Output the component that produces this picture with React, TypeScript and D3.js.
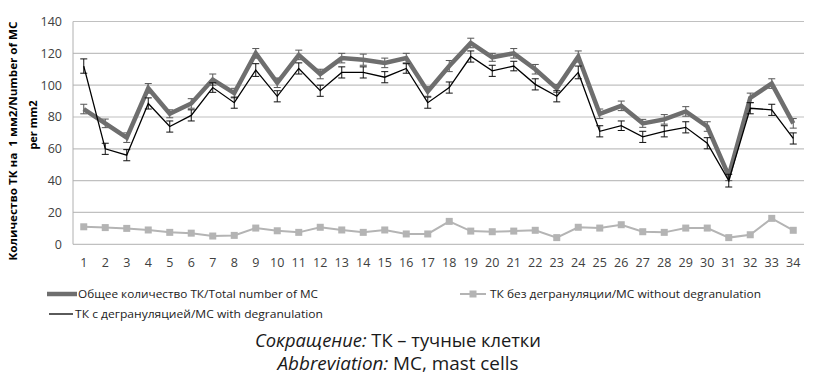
import React from "react";
import * as d3 from "d3";

const categories: number[] = Array.from({ length: 34 }, (_, i) => i + 1);

const totalValues = [85, 76, 67, 98, 82, 88.5, 103.5, 95, 120, 101.5, 119, 107, 117, 116, 114, 117, 96, 112, 126.5, 117.5, 120, 110, 98, 118, 82, 87, 76, 78.5, 83.5, 74, 43, 92, 101, 76];
const totalErr = [3, 2.7, 3, 3, 2.5, 3, 3.5, 3, 3, 3, 3, 3, 3, 3.5, 3, 3, 3, 3.5, 3, 2.5, 3, 3, 2.5, 3.5, 3, 3, 2.5, 3, 3, 3, 3, 3, 3, 3];

const degranValues = [112, 60, 56, 88.5, 74, 81, 98.5, 89, 109.5, 93, 110.5, 96.5, 108, 108, 105, 110.5, 89, 98.5, 118, 109, 112, 100.5, 93, 108, 71, 74.5, 67.5, 71, 73.5, 63.5, 40, 85.5, 84.5, 66.5];
const degranErr = [4.5, 3.5, 3.5, 3.5, 3.5, 3.5, 3, 3.5, 4, 3.5, 3.5, 3.5, 3.5, 3.5, 3.5, 3, 3.5, 3.5, 3.5, 3.5, 3, 3.5, 3.5, 4, 3.5, 3, 3.5, 3.5, 3.5, 3.5, 4, 3.5, 3.5, 3.5];

const nonDegranValues = [11, 10.5, 10, 9, 7.5, 7, 5.2, 5.6, 10.2, 8.5, 7.5, 10.7, 9, 7.5, 9, 6.5, 6.5, 14.4, 8.3, 7.9, 8.3, 8.8, 4.2, 10.7, 10.2, 12.3, 7.9, 7.5, 10.2, 10.2, 4.2, 6, 16.3, 8.8];

const yTicks = [0, 20, 40, 60, 80, 100, 120, 140];

const legendLabels = [
  "Общее количество ТК/Total number of MC",
  "ТК без дегрануляции/MC without degranulation",
  "ТК с дегрануляцией/MC with degranulation",
];
const yTitleLines = ["Количество ТК на  1 мм2/Number of MC", "per mm2"];

const W = 819;
const H = 381;
const left = 73;
const right = 804;
const top = 21.5;
const bottom = 244.3;

const FONT = "'Open Sans', 'DejaVu Sans', sans-serif";

export default function App() {
  const x = d3.scalePoint<number>().domain(categories).range([left, right]).padding(0.5);
  const y = d3.scaleLinear().domain([0, 140]).range([bottom, top]);

  const line = d3
    .line<number>()
    .x((_, i) => x(categories[i]) as number)
    .y((d) => y(d));

  const capW = 3.5;

  const errBars = (vals: number[], errs: number[], color: string, key: string) =>
    vals.map((v, i) => {
      const cx = x(categories[i]) as number;
      const y1 = y(v + errs[i]);
      const y2 = y(v - errs[i]);
      return (
        <g key={key + i} stroke={color} strokeWidth={1}>
          <line x1={cx} x2={cx} y1={y1} y2={y2} />
          <line x1={cx - capW} x2={cx + capW} y1={y1} y2={y1} />
          <line x1={cx - capW} x2={cx + capW} y1={y2} y2={y2} />
        </g>
      );
    });

  return (
    <svg width={W} height={H} style={{ position: "absolute", left: 0, top: 0, background: "#fff" }}>
      {/* gridlines */}
      {yTicks.map((t) => (
        <line key={"g" + t} x1={left} x2={right} y1={y(t)} y2={y(t)} stroke="#c0c0c0" strokeWidth={1.2} />
      ))}
      <line x1={left} x2={left} y1={top} y2={bottom} stroke="#b0b0b0" strokeWidth={1} />

      {/* y tick labels */}
      {yTicks.map((t) => (
        <text key={"yt" + t} x={62} y={y(t)} dy="0.35em" textAnchor="end" fontFamily={FONT} fontSize={12.5} fill="#404040">
          {t}
        </text>
      ))}
      {/* x tick labels */}
      {categories.map((c) => (
        <text key={"xt" + c} x={x(c) as number} y={263} dy="0.35em" textAnchor="middle" fontFamily={FONT} fontSize={12.5} fill="#404040">
          {c}
        </text>
      ))}

      {/* y title */}
      <text transform="translate(17,141) rotate(-90)" textAnchor="middle" fontFamily={FONT} fontWeight="bold" fontSize={11} fill="#000" textLength={239} lengthAdjust="spacingAndGlyphs" style={{ whiteSpace: "pre" }}>
        {yTitleLines[0]}
      </text>
      <text transform="translate(37,125) rotate(-90)" textAnchor="middle" fontFamily={FONT} fontWeight="bold" fontSize={11} fill="#000">
        {yTitleLines[1]}
      </text>

      {/* error bars total */}
      {errBars(totalValues, totalErr, "#555", "et")}
      {/* total line */}
      <path d={line(totalValues) || ""} fill="none" stroke="#6e6e6e" strokeWidth={4.5} strokeLinejoin="miter" />
      {/* degranulated */}
      {errBars(degranValues, degranErr, "#111", "ed")}
      <path d={line(degranValues) || ""} fill="none" stroke="#000" strokeWidth={1.3} />
      {/* non-degranulated */}
      <path d={line(nonDegranValues) || ""} fill="none" stroke="#b4b4b4" strokeWidth={2} />
      {nonDegranValues.map((v, i) => (
        <rect key={"s" + i} x={(x(categories[i]) as number) - 3.5} y={y(v) - 3.5} width={7} height={7} fill="#b4b4b4" />
      ))}

      {/* legend */}
      <line x1={47} x2={77} y1={294} y2={294} stroke="#6e6e6e" strokeWidth={4.5} />
      <text x={78} y={294} dy="0.35em" fontFamily={FONT} fontSize={11} fill="#222" textLength={240} lengthAdjust="spacingAndGlyphs">
        {legendLabels[0]}
      </text>
      <line x1={460} x2={486} y1={294} y2={294} stroke="#b4b4b4" strokeWidth={2} />
      <rect x={469.5} y={290.5} width={7} height={7} fill="#b4b4b4" />
      <text x={490} y={294} dy="0.35em" fontFamily={FONT} fontSize={11} fill="#222" textLength={271} lengthAdjust="spacingAndGlyphs">
        {legendLabels[1]}
      </text>
      <line x1={49} x2={73} y1={314} y2={314} stroke="#000" strokeWidth={1.3} />
      <text x={75} y={314} dy="0.35em" fontFamily={FONT} fontSize={11} fill="#222" textLength={248} lengthAdjust="spacingAndGlyphs">
        {legendLabels[2]}
      </text>

      {/* caption */}
      <text x={398} y={341} dy="0.35em" textAnchor="middle" fontFamily={FONT} fontSize={17.5} fill="#1a1a1a" textLength={286} lengthAdjust="spacingAndGlyphs">
        <tspan fontStyle="italic">Сокращение:</tspan>
        <tspan> ТК – тучные клетки</tspan>
      </text>
      <text x={398} y={364} dy="0.35em" textAnchor="middle" fontFamily={FONT} fontSize={17.5} fill="#1a1a1a" textLength={241} lengthAdjust="spacingAndGlyphs">
        <tspan fontStyle="italic">Abbreviation:</tspan>
        <tspan> MC, mast cells</tspan>
      </text>
    </svg>
  );
}
